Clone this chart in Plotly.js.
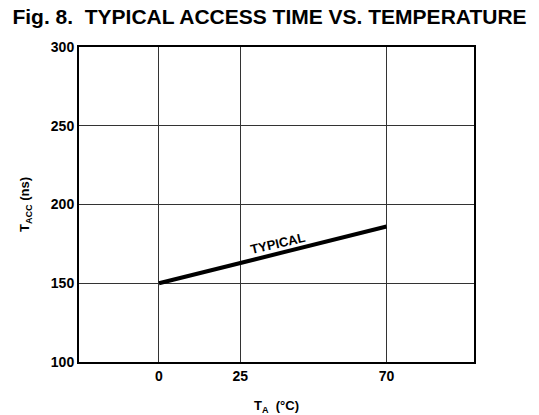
<!DOCTYPE html>
<html><head><meta charset="utf-8">
<script src="https://cdn.plot.ly/plotly-3.0.1.min.js"></script>
<style>body{margin:0;background:#fff}#c{width:539px;height:415px}</style>
</head><body><div id="c"></div>
<script>
const tempC = [0, 70];
const accessNs = [150, 186];
const xTicks = [0, 25, 70];
const yTicks = [100, 150, 200, 250, 300];
const curveLabel = "TYPICAL";
const labelPos = {x: 36.5, y: 175.5};

const F = "Liberation Sans, Arial, Helvetica, sans-serif";
const trace = {
  x: tempC, y: accessNs, mode: "lines", type: "scatter",
  line: {color: "#000", width: 4}, hoverinfo: "skip", showlegend: false
};
const layout = {
  width: 539, height: 415,
  margin: {l: 79, r: 65, t: 47, b: 53},
  paper_bgcolor: "#fff", plot_bgcolor: "#fff",
  font: {family: F, color: "#000"},
  title: {text: "Fig. 8.  TYPICAL ACCESS TIME VS. TEMPERATURE",
    font: {family: F, size: 21, weight: "bold", color: "#000"},
    x: 0.5, xanchor: "center", y: 0.978, yanchor: "top"},
  xaxis: {range: [-24.6, 96.9], tickvals: xTicks, ticktext: xTicks.map(String),
    showgrid: true, gridcolor: "#333", gridwidth: 1, zeroline: false,
    showline: true, mirror: true, linecolor: "#000", linewidth: 2,
    ticks: "", ticklen: 0,
    tickfont: {family: F, size: 14, weight: "bold", color: "#000"},
    title: {text: "T<sub>A</sub>  (°C)", standoff: 18,
      font: {family: F, size: 13, weight: "bold", color: "#000"}}},
  yaxis: {range: [100, 300], tickvals: yTicks, ticktext: yTicks.map(String),
    showgrid: true, gridcolor: "#333", gridwidth: 1, zeroline: false,
    showline: true, mirror: true, linecolor: "#000", linewidth: 2,
    ticks: "", ticklen: 0,
    tickfont: {family: F, size: 14, weight: "bold", color: "#000"},
    title: {text: "T<sub>ACC</sub> (ns)", standoff: 18,
      font: {family: F, size: 13, weight: "bold", color: "#000"}}},
  annotations: [{x: labelPos.x, y: labelPos.y, xref: "x", yref: "y",
    text: curveLabel, showarrow: false, textangle: -13,
    font: {family: F, size: 13, weight: "bold", color: "#000"}}]
};
Plotly.newPlot("c", [trace], layout, {displayModeBar: false, staticPlot: true});
</script></body></html>
